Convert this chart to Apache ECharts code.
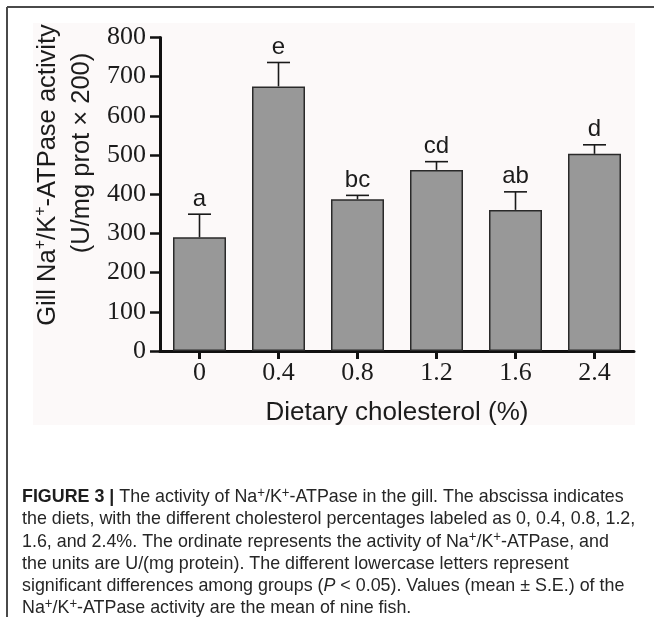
<!DOCTYPE html>
<html>
<head>
<meta charset="utf-8">
<script src="https://cdn.jsdelivr.net/npm/echarts@6/dist/echarts.min.js"></script>
<style>
  html, body { margin: 0; padding: 0; background: #ffffff; }
  #chart { width: 654px; height: 617px; }
</style>
</head>
<body>
<div id="chart"></div>
<script>
// Gill Na+/K+-ATPase activity by dietary cholesterol level (mean ± S.E.)
const categories = ['0', '0.4', '0.8', '1.2', '1.6', '2.4'];
const activity = [290, 675, 387, 462, 360, 503];
const stdError = [59, 61, 10, 21, 46, 23];
const groupLetters = ['a', 'e', 'bc', 'cd', 'ab', 'd'];
const yTickValues = [0, 100, 200, 300, 400, 500, 600, 700, 800];

const SERIF = '"Liberation Serif", "Times New Roman", serif';
const SANS = '"Liberation Sans", Arial, sans-serif';
const INK = '#1c1c1c';

const chart = echarts.init(document.getElementById('chart'), null, { renderer: 'canvas' });

const errorData = categories.map((c, i) => [i, activity[i], stdError[i]]);

// caption lines as rich text
const capStyles = {
  b: { fontFamily: SANS, fontSize: 19, fontWeight: 'bold', fill: '#1e1e1e', lineHeight: 22 },
  n: { fontFamily: SANS, fontSize: 19, fill: '#262626', lineHeight: 22 },
  i: { fontFamily: SANS, fontSize: 19, fontStyle: 'italic', fill: '#262626', lineHeight: 22 },
  s: { fontFamily: SANS, fontSize: 14, fill: '#262626', lineHeight: 14, verticalAlign: 'top' }
};
const captionLines = [
  '{b|FIGURE 3 |}{n| The activity of Na}{s|+}{n|/K}{s|+}{n|-ATPase in the gill. The abscissa indicates}',
  '{n|the diets, with the different cholesterol percentages labeled as 0, 0.4, 0.8, 1.2,}',
  '{n|1.6, and 2.4%. The ordinate represents the activity of Na}{s|+}{n|/K}{s|+}{n|-ATPase, and}',
  '{n|the units are U/(mg protein). The different lowercase letters represent}',
  '{n|significant differences among groups (}{i|P}{n| < 0.05). Values (mean ± S.E.) of the}',
  '{n|Na}{s|+}{n|/K}{s|+}{n|-ATPase activity are the mean of nine fish.}'
];
const captionTop = 497;
const captionStep = 22.2;

const graphics = [
  // outer frame (top and left rules)
  { type: 'line', shape: { x1: 7, y1: 7, x2: 654, y2: 7 }, style: { stroke: '#4a4a4a', lineWidth: 2 }, z: 0 },
  { type: 'line', shape: { x1: 7, y1: 7, x2: 7, y2: 617 }, style: { stroke: '#4a4a4a', lineWidth: 2 }, z: 0 },
  // plot panel
  { type: 'rect', shape: { x: 33, y: 23, width: 602, height: 402 }, style: { fill: '#fcf9f9' }, z: -10, silent: true },
  // y-axis title, two rotated lines
  {
    type: 'text', x: 48, y: 175, rotation: Math.PI / 2, z: 10,
    style: {
      text: '{t|Gill Na}{s|+}{t|/K}{s|+}{t|-ATPase activity}',
      align: 'center', verticalAlign: 'middle',
      rich: {
        t: { fontFamily: SANS, fontSize: 25.5, fill: INK, lineHeight: 30 },
        s: { fontFamily: SANS, fontSize: 16, fill: INK, lineHeight: 16, verticalAlign: 'top' }
      }
    }
  },
  {
    type: 'text', x: 82, y: 153, rotation: Math.PI / 2, z: 10,
    style: {
      text: '(U/mg prot × 200)', fontFamily: SANS, fontSize: 25.5, fill: INK,
      align: 'center', verticalAlign: 'middle'
    }
  }
];
captionLines.forEach((line, k) => {
  graphics.push({
    type: 'text', x: 22, y: captionTop + k * captionStep, scaleX: 0.94, z: 10,
    style: { text: line, align: 'left', verticalAlign: 'middle', rich: capStyles }
  });
});

const option = {
  animation: false,
  backgroundColor: 'transparent',
  grid: { left: 160, right: 20, top: 37.4, bottom: 266, containLabel: false },
  xAxis: {
    type: 'category',
    data: categories,
    name: 'Dietary cholesterol (%)',
    nameLocation: 'middle',
    nameGap: 49,
    nameTextStyle: { fontFamily: SANS, fontSize: 26, color: INK },
    axisLine: { lineStyle: { color: '#111', width: 3 } },
    axisTick: { show: true, alignWithLabel: true, length: 8, lineStyle: { color: '#111', width: 3 } },
    axisLabel: { fontFamily: SERIF, fontSize: 26, color: INK, margin: 9 },
    splitLine: { show: false }
  },
  yAxis: {
    type: 'value',
    min: yTickValues[0],
    max: yTickValues[yTickValues.length - 1],
    interval: yTickValues[1] - yTickValues[0],
    axisLine: { show: true, lineStyle: { color: '#111', width: 3 } },
    axisTick: { show: true, length: 10, lineStyle: { color: '#111', width: 2.5 } },
    axisLabel: { fontFamily: SERIF, fontSize: 26, color: INK, margin: 14 },
    splitLine: { show: false }
  },
  series: [
    {
      type: 'bar',
      data: activity,
      barWidth: 53,
      itemStyle: { color: '#989898', borderColor: '#2a2a2a', borderWidth: 1.5 },
      z: 2
    },
    {
      type: 'custom',
      data: errorData,
      z: 3,
      renderItem: function (params, api) {
        const i = api.value(0);
        const mean = api.value(1);
        const se = api.value(2);
        const base = api.coord([i, mean]);
        const top = api.coord([i, mean + se]);
        const half = 11.5;
        const stroke = { stroke: '#1a1a1a', lineWidth: 1.6 };
        return {
          type: 'group',
          children: [
            { type: 'line', shape: { x1: base[0], y1: base[1], x2: top[0], y2: top[1] }, style: stroke },
            { type: 'line', shape: { x1: top[0] - half, y1: top[1], x2: top[0] + half, y2: top[1] }, style: stroke },
            {
              type: 'text', x: top[0], y: top[1] - 3,
              style: {
                text: groupLetters[params.dataIndex],
                fontFamily: SANS, fontSize: 24, fill: INK,
                align: 'center', verticalAlign: 'bottom'
              }
            }
          ]
        };
      }
    }
  ],
  graphic: { elements: graphics }
};

chart.setOption(option);
</script>
</body>
</html>
